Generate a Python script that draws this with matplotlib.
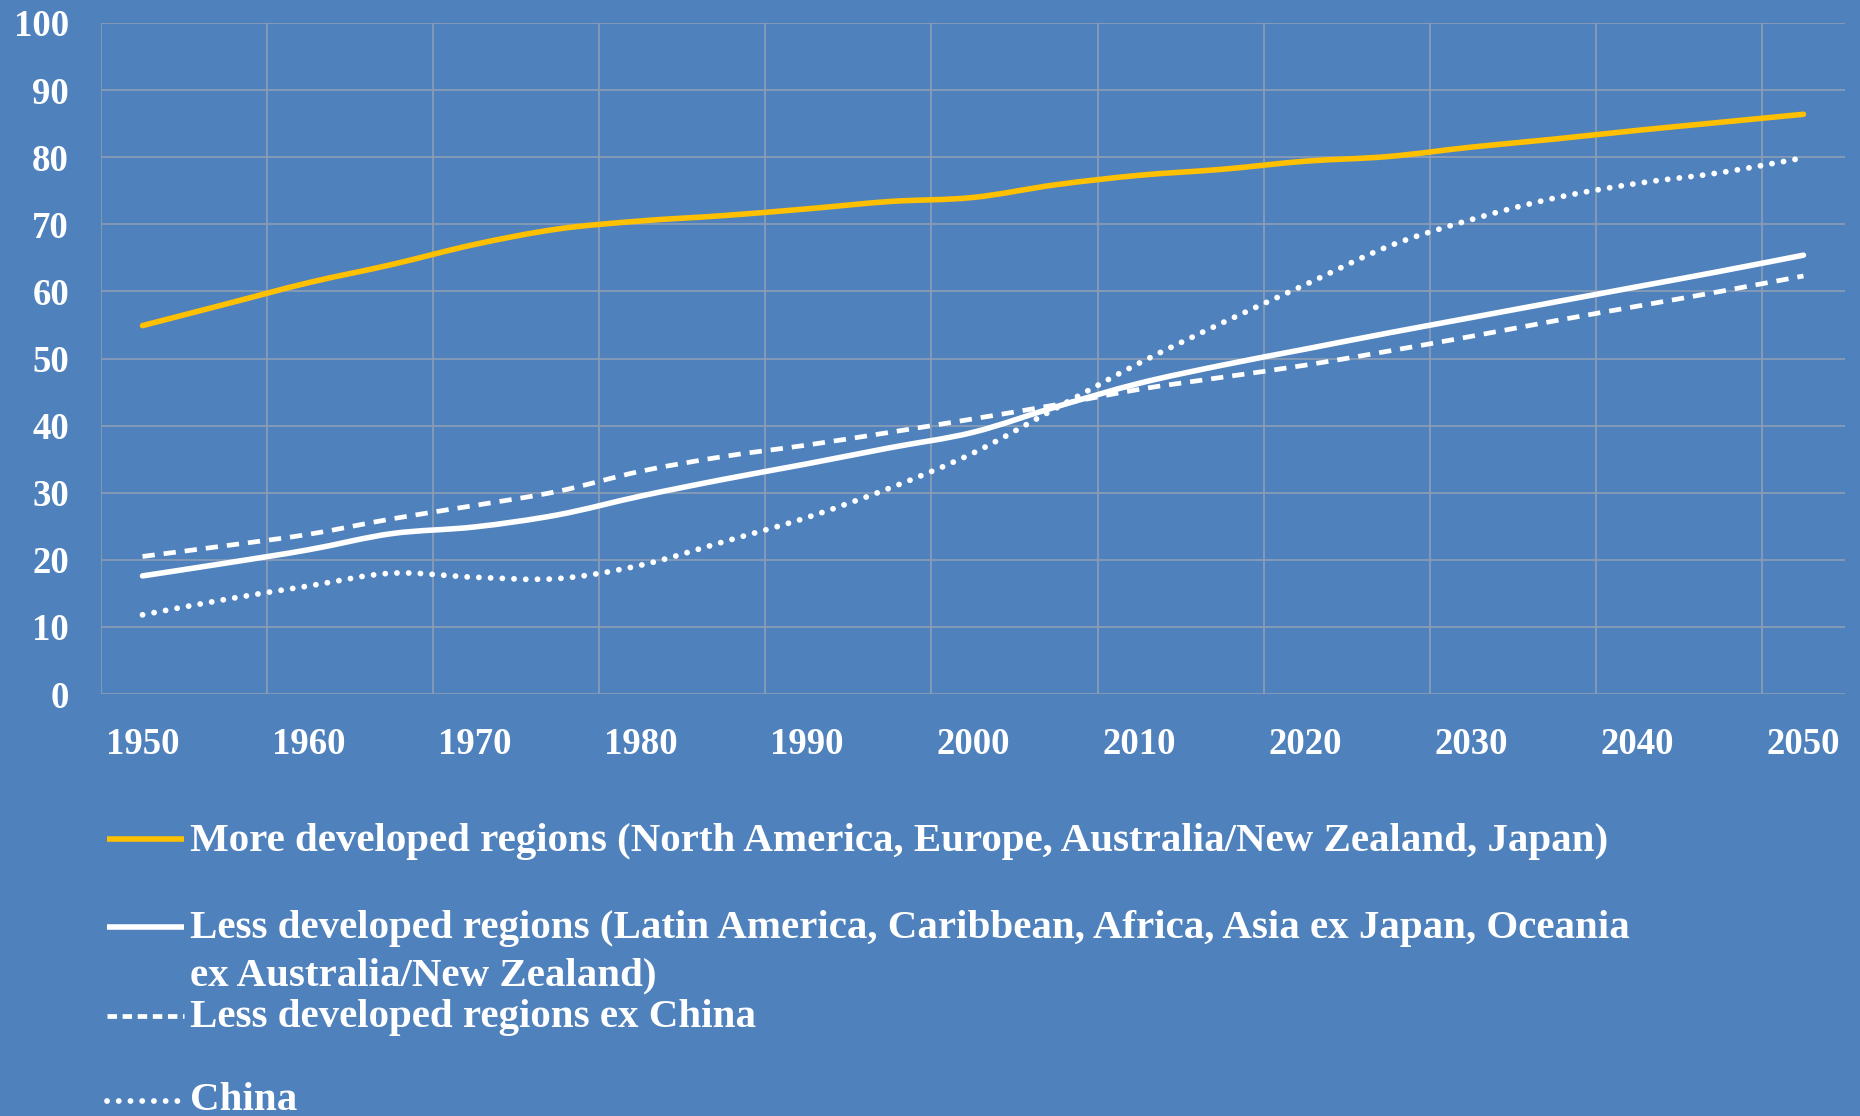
import matplotlib
matplotlib.use("Agg")
import matplotlib.pyplot as plt
from matplotlib.lines import Line2D
from matplotlib.path import Path
from matplotlib.patches import PathPatch
import numpy as np

years = list(range(1950, 2051, 5))
tick_years = [str(y) for y in range(1950, 2051, 10)]

more_developed = [54.9, 58.1, 61.3, 64.0, 67.0, 69.3, 70.5, 71.3, 72.3, 73.4, 74.0,
                  75.9, 77.3, 78.2, 79.4, 80.1, 81.5, 82.7, 84.0, 85.2, 86.4]
less_developed = [17.6, 19.5, 21.5, 23.9, 24.9, 26.7, 29.5, 32.0, 34.3, 36.7, 39.0,
                  42.8, 46.3, 49.0, 51.4, 53.8, 56.1, 58.4, 60.7, 63.0, 65.4]
less_ex_china = [20.5, 22.1, 23.8, 26.1, 28.1, 30.2, 33.2, 35.4, 37.1, 39.0, 41.0,
                 43.1, 45.4, 47.2, 49.0, 51.1, 53.3, 55.6, 57.8, 60.0, 62.3]
china = [11.8, 14.1, 16.1, 18.0, 17.4, 17.2, 19.2, 22.7, 26.3, 30.7, 35.9,
         42.6, 49.3, 55.3, 61.0, 66.7, 70.7, 73.9, 76.1, 77.7, 79.9]

labels = [
    "More developed regions (North America, Europe, Australia/New Zealand, Japan)",
    "Less developed regions (Latin America, Caribbean, Africa, Asia ex Japan, Oceania\nex Australia/New Zealand)",
    "Less developed regions ex China",
    "China",
]

BG = "#4F81BD"
ORANGE = "#FFC000"
WHITE = "#FFFFFF"
GRID = "#8C9DB5"
FONT = "Liberation Serif"

W, H = 1860, 1116
fig = plt.figure(figsize=(W / 100, H / 100), dpi=100, facecolor=BG)
ax = fig.add_axes([101 / W, 1 - 694 / H, (1845 - 101) / W, (694 - 23) / H])
ax.set_facecolor(BG)


def smooth_path(xs, ys):
    """Excel-style smoothed line: cubic Bezier through every data point."""
    p = np.column_stack([xs, ys]).astype(float)
    n = len(p)
    verts = [p[0]]
    codes = [Path.MOVETO]
    for i in range(n - 1):
        p0 = p[i - 1] if i > 0 else p[i]
        p3 = p[i + 2] if i + 2 < n else p[i + 1]
        c1 = p[i] + (p[i + 1] - p0) / 6.0
        c2 = p[i + 1] - (p3 - p[i]) / 6.0
        verts += [c1, c2, p[i + 1]]
        codes += [Path.CURVE4] * 3
    return Path(verts, codes)


x = np.arange(len(years))
styles = [
    dict(color=ORANGE, lw=4.0, ls="-", capstyle="round"),
    dict(color=WHITE, lw=4.0, ls="-", capstyle="round"),
    dict(color=WHITE, lw=3.4, ls=(0, (2.6, 1.9)), capstyle="butt"),
    dict(color=WHITE, lw=4.2, ls=(0, (0.01, 2.0)), capstyle="round"),
]
series = [more_developed, less_developed, less_ex_china, china]
for s, st in zip(series, styles):
    patch = PathPatch(smooth_path(x, s), facecolor="none", edgecolor=st["color"],
                      lw=st["lw"], ls=st["ls"], capstyle=st["capstyle"],
                      joinstyle="round", zorder=3)
    ax.add_patch(patch)

ax.set_xlim(-0.5, len(years) - 0.5)
ax.set_ylim(0, 100)
ax.set_yticks(range(0, 101, 10))
ax.set_xticks(x[::2])
ax.set_xticklabels(tick_years)
ax.set_xticks(np.arange(-0.5, len(years) - 1, 2), minor=True)
ax.grid(axis="y", which="major", color=GRID, lw=1.2)
ax.grid(axis="x", which="minor", color=GRID, lw=1.2)
ax.set_axisbelow(True)
for sp in ax.spines.values():
    sp.set_visible(False)
ax.tick_params(axis="both", which="both", length=0)
ax.tick_params(axis="y", pad=23)
ax.tick_params(axis="x", pad=24)
for lab in ax.get_xticklabels() + ax.get_yticklabels():
    lab.set_fontfamily(FONT)
    lab.set_fontweight("bold")
    lab.set_fontsize(26.5)
    lab.set_color(WHITE)

# legend (manual, Excel-like spacing)
hx0, hx1, tx = 107 / W, 184 / W, 190 / W
handle_y = [839, 927, 1016, 1101]
for hy, lab, st in zip(handle_y, labels, styles):
    ls = st["ls"]
    if isinstance(ls, tuple) and ls[1][0] > 1:
        ls = (0, (2.0, 1.2))
    fig.add_artist(Line2D([hx0, hx1], [1 - hy / H, 1 - hy / H], transform=fig.transFigure,
                          color=st["color"], lw=st["lw"], ls=ls,
                          solid_capstyle="butt", dash_capstyle=st["capstyle"]))
    kw = dict(ha="left", color=WHITE, fontfamily=FONT, fontweight="bold", fontsize=29.5)
    if "\n" in lab:
        fig.text(tx, 1 - (hy - 17) / H, lab, va="top", linespacing=1.36, **kw)
    elif lab == "China":
        fig.text(tx, 1 - 1110 / H, lab, va="baseline", **kw)
    else:
        fig.text(tx, 1 - (hy + 2) / H, lab, va="center", **kw)

fig.savefig("out.png", dpi=100, facecolor=BG)
